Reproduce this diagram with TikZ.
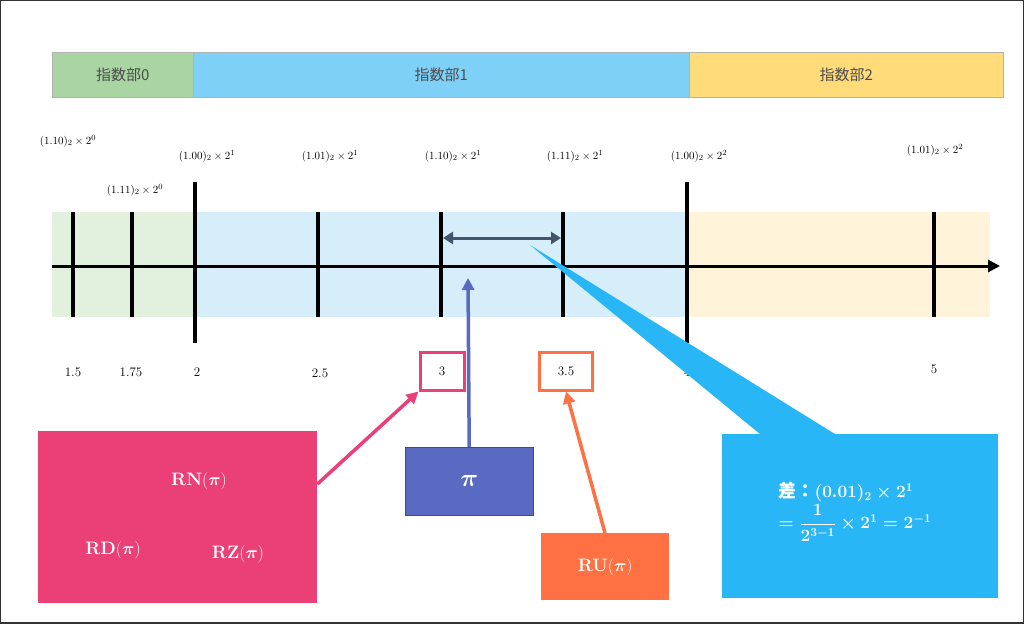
\documentclass[tikz,border=0pt]{standalone}
\usepackage{amsmath}
\usepackage{fontspec}
\newfontfamily\cjk{Noto Sans CJK JP}
\usetikzlibrary{arrows.meta}
\definecolor{expgreen}{HTML}{A8D5A2}
\definecolor{expblue}{HTML}{7FD0F7}
\definecolor{expyellow}{HTML}{FFDB7A}
\definecolor{bandgreen}{HTML}{E2F0DE}
\definecolor{bandblue}{HTML}{D5EEFA}
\definecolor{bandyellow}{HTML}{FFF4D9}
\definecolor{rpink}{HTML}{EA3F77}
\definecolor{rblue}{HTML}{5A6AC2}
\definecolor{rorange}{HTML}{FF7043}
\definecolor{rcyan}{HTML}{29B6F6}
\definecolor{slate}{HTML}{44546A}
\tikzset{
  bar/.style={draw=gray!60, minimum height=45pt, inner sep=0pt, font=\cjk\fontsize{15}{15}\selectfont, text=black!70},
  tick/.style={line width=3.5pt},
  fmt/.style={font=\fontsize{11}{11}\selectfont},
  num/.style={font=\fontsize{13}{13}\selectfont},
  rbox/.style={inner sep=0pt, text=white, font=\bfseries\fontsize{18}{18}\selectfont},
}
\begin{document}
\begin{tikzpicture}[x=1pt,y=-1pt]
  \useasboundingbox (0,0) rectangle (1024,623);
  \draw[line width=1.5pt, black!80] (0,0) rectangle (1024,623);

  % exponent bars
  \node[bar, fill=expgreen, minimum width=141pt, anchor=north west] (e0) at (52,52) {指数部0};
  \node[bar, fill=expblue, minimum width=496pt, anchor=north west] (e1) at (193,52) {指数部1};
  \node[bar, fill=expyellow, minimum width=314pt, anchor=north west] (e2) at (689,52) {指数部2};

  % band
  \fill[bandgreen] (52,212) rectangle (193,317);
  \fill[bandblue] (193,212) rectangle (689,317);
  \fill[bandyellow] (689,212) rectangle (990,317);

  % axis
  \coordinate (a0) at (52,266);
  \coordinate (a1) at (1000,266);
  \draw[line width=3pt, -{Triangle[length=12pt,width=12pt]}] (a0) -- (a1);

  % ticks
  \foreach \x in {73,132,318,441,563,934}
    \draw[tick] (\x,212) -- (\x,317);
  \foreach \x in {195,687}
    \draw[tick] (\x,182) -- (\x,343);

  % binary labels
  \node[fmt] (f0) at (68,141) {$(1.10)_2\times2^0$};
  \node[fmt] (f1) at (135,190) {$(1.11)_2\times2^0$};
  \node[fmt] (f2) at (207,156) {$(1.00)_2\times2^1$};
  \node[fmt] (f3) at (330,156) {$(1.01)_2\times2^1$};
  \node[fmt] (f4) at (453,156) {$(1.10)_2\times2^1$};
  \node[fmt] (f5) at (575,156) {$(1.11)_2\times2^1$};
  \node[fmt] (f6) at (699,156) {$(1.00)_2\times2^2$};
  \node[fmt] (f7) at (935,150) {$(1.01)_2\times2^2$};

  % numbers
  \node[num] (n1) at (73,372) {1.5};
  \node[num] (n2) at (131,372) {1.75};
  \node[num] (n3) at (197,372) {2};
  \node[num] (n4) at (320,373) {2.5};
  \node[num, draw=rpink, line width=3pt, minimum width=44pt, minimum height=38pt] (n5) at (442,371) {3};
  \node[num, draw=rorange, line width=3pt, minimum width=53pt, minimum height=38pt] (n6) at (566,371) {3.5};
  \node[num] (n7) at (687,372) {4};
  \node[num] (n8) at (934,369) {5};

  % gap between 3 and 3.5
  \coordinate (g0) at (443,238);
  \coordinate (g1) at (561,238);
  \draw[slate, line width=3pt, {Triangle[length=10pt,width=12pt]}-{Triangle[length=10pt,width=12pt]}] (g0) -- (g1);

  % callout
  \coordinate (tip) at (530,245);
  \fill[rcyan] (760,434) -- (tip) -- (835,434) -- cycle;
  \node[rbox, fill=rcyan, minimum width=276pt, minimum height=164pt, anchor=north west] (diff) at (722,434) {};
  \node[text=white, font=\fontsize{18}{18}\selectfont, align=left] (dtxt) at (855,512)
    {{\cjk\bfseries 差：}$\boldsymbol{(0.01)_2\times2^1}$\\[2pt]
     $\boldsymbol{=\dfrac{1}{2^{3-1}}\times2^1=2^{-1}}$};

  % rounding boxes
  \node[rbox, fill=rpink, minimum width=279pt, minimum height=172pt, anchor=north west] (rnd) at (38,431) {};
  \node[rbox] (rn) at (199,481) {RN$(\boldsymbol{\pi})$};
  \node[rbox] (rd) at (113,550) {RD$(\boldsymbol{\pi})$};
  \node[rbox] (rz) at (238,554) {RZ$(\boldsymbol{\pi})$};
  \node[rbox, fill=rblue, draw=rblue!70!black, minimum width=128pt, minimum height=68pt, anchor=north west, font=\fontsize{30}{30}\selectfont] (pi) at (405,447) {$\boldsymbol{\pi}$};
  \node[rbox, fill=rorange, minimum width=128pt, minimum height=67pt, anchor=north west] (ru) at (541,533) {RU$(\boldsymbol{\pi})$};

  % arrows
  \draw[rpink, line width=3.5pt, -{Triangle[length=12pt,width=12pt]}] (rnd.north east) ++(0,53) -- (n5.south west);
  \draw[rblue, line width=3.5pt, -{Triangle[length=12pt,width=12pt]}] (pi.north) -- (468,278);
  \draw[rorange, line width=3.5pt, -{Triangle[length=12pt,width=12pt]}] (605,533) -- (n6.south);
\end{tikzpicture}
\end{document}
